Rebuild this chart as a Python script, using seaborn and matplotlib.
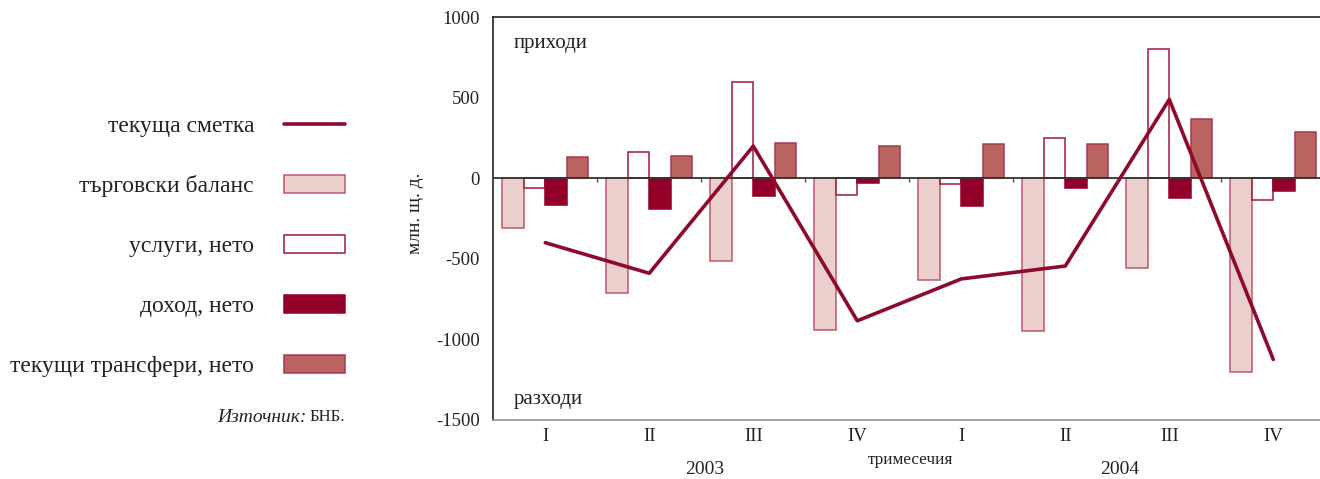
import numpy as np
import pandas as pd
import seaborn as sns
import matplotlib.pyplot as plt
from matplotlib.lines import Line2D
from matplotlib.patches import Patch

quarters = ["I", "II", "III", "IV", "I", "II", "III", "IV"]
years = ["2003", "2004"]
series_names = ["търговски баланс", "услуги, нето", "доход, нето", "текущи трансфери, нето"]
line_name = "текуща сметка"

trade = [-310, -715, -515, -940, -630, -950, -560, -1205]
services = [-60, 165, 600, -105, -35, 250, 800, -135]
income = [-165, -190, -110, -30, -175, -60, -120, -80]
transfers = [135, 140, 220, 200, 215, 215, 370, 290]
current = [-400, -590, 200, -885, -625, -545, 490, -1125]

fills = ["#ebcfcc", "#ffffff", "#93002a", "#b96461"]
edges = ["#c2566c", "#a3163a", "#93002a", "#a8384e"]
line_color = "#8e0a2c"

keys = [f"{y} {q}" for y in years for q in quarters[:4]]
df = pd.DataFrame({
    "q": keys * 4,
    "series": np.repeat(series_names, 8),
    "value": trade + services + income + transfers,
})

sns.set_style("white")
plt.rcParams["font.family"] = ["Liberation Serif", "DejaVu Serif"]
text_color = "#222222"

fig = plt.figure(figsize=(13.2, 4.79), dpi=100)
ax = fig.add_axes([0.3737, 0.1236, 0.6303, 0.8403])

sns.barplot(data=df, x="q", y="value", hue="series", hue_order=series_names,
            palette=dict(zip(series_names, fills)), width=0.83, saturation=1,
            errorbar=None, legend=False, ax=ax)
for cont, ec in zip(ax.containers, edges):
    for bar in cont:
        bar.set_edgecolor(ec)
        bar.set_linewidth(1.1)

sns.lineplot(x=np.arange(len(current)), y=current, color=line_color, lw=2.6, ax=ax)

ax.axhline(0, color="#333333", lw=1.3, zorder=1)
# small ticks on the zero line between quarters
ax.vlines(np.arange(len(keys) - 1) + 0.5, -22, 0, color="#555555", lw=1)

ax.set_xlim(-0.5, 7.5)
ax.set_ylim(-1500, 1000)
ax.set_yticks([1000, 500, 0, -500, -1000, -1500])
ax.set_yticklabels(["1000", "500", "0", "-500", "-1000", "-1500"])
ax.set_xticks(range(len(keys)))
ax.set_xticklabels(quarters)
ax.tick_params(axis="x", length=0, pad=6, labelsize=13.5, labelcolor=text_color)
ax.tick_params(axis="y", direction="out", length=3, width=1, color="#444444",
               pad=6.5, labelsize=13.5, labelcolor=text_color)
ax.set_xlabel("")
ax.set_ylabel("")

for s in ["top", "left"]:
    ax.spines[s].set_color("#333333")
    ax.spines[s].set_linewidth(1.3)
ax.spines["bottom"].set_color("#999999")
ax.spines["bottom"].set_linewidth(1.3)
ax.spines["right"].set_visible(False)

ax.text(0.024, 0.935, "приходи", transform=ax.transAxes, fontsize=15,
        color=text_color, va="center")
ax.text(0.024, 0.05, "разходи", transform=ax.transAxes, fontsize=15,
        color=text_color, va="center")

fig.text(415 / 1320, 1 - 213 / 479, "млн. щ. д.", rotation=90, fontsize=14,
         color=text_color, ha="center", va="center")
fig.text(911 / 1320, 1 - 460 / 479, "тримесечия", fontsize=12.3,
         color=text_color, ha="center", va="center")
fig.text(705 / 1320, 1 - 469 / 479, years[0], fontsize=14,
         color=text_color, ha="center", va="center")
fig.text(1120 / 1320, 1 - 469 / 479, years[1], fontsize=14,
         color=text_color, ha="center", va="center")

handles = [Line2D([], [], color=line_color, lw=2.6)]
handles += [Patch(facecolor=f, edgecolor=e, lw=1.1) for f, e in zip(fills, edges)]
labels = [line_name] + series_names
fig.legend(handles, labels, loc="upper right", bbox_to_anchor=(345 / 1320, 1 - 115 / 479),
           frameon=False, markerfirst=False, fontsize=17, handlelength=2.58,
           handleheight=0.8, handletextpad=1.27, labelspacing=1.6, borderpad=0,
           borderaxespad=0, labelcolor=text_color)

fig.text(307 / 1320, 1 - 417 / 479, "Източник:", fontsize=14, style="italic",
         color=text_color, ha="right", va="center")
fig.text(345 / 1320, 1 - 417 / 479, "БНБ.", fontsize=12,
         color=text_color, ha="right", va="center")

fig.savefig("out.png", dpi=100)
